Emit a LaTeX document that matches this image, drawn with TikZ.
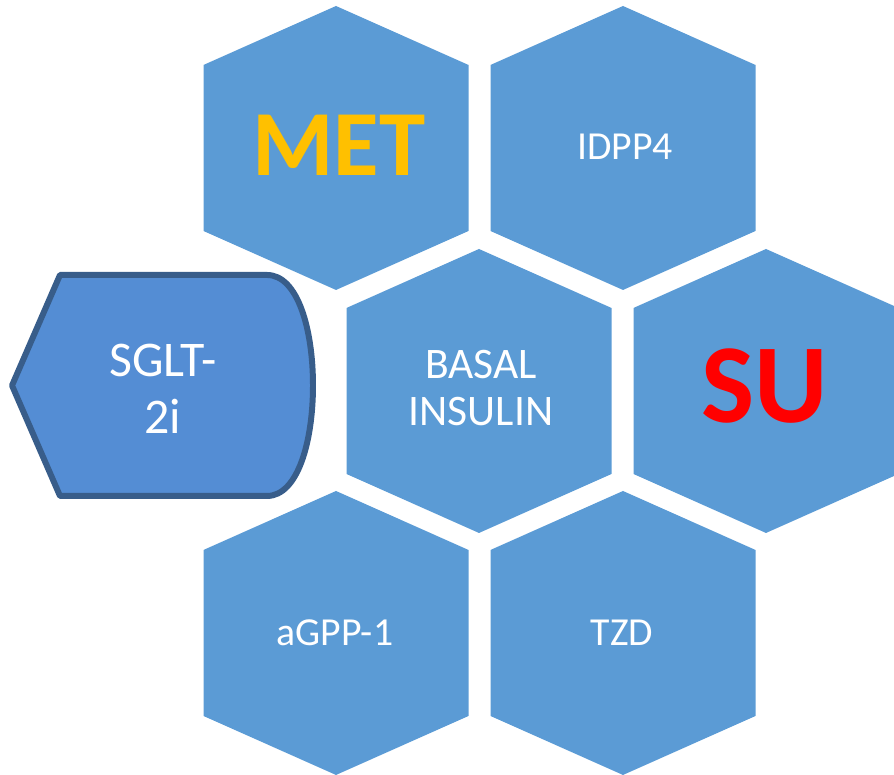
\documentclass[tikz,border=0pt]{standalone}
\usepackage{fontspec}
\setmainfont{Carlito}
\usetikzlibrary{calc}
\definecolor{HexClr}{HTML}{5B9BD5}
\definecolor{ArrowClr}{HTML}{548DD4}
\definecolor{EdgeClr}{HTML}{385D8A}
\definecolor{MetClr}{HTML}{FFC000}
\definecolor{SuClr}{HTML}{FF0000}

\begin{document}
\begin{tikzpicture}[hexcell/.style={fill=HexClr},
  txt/.style={text=white,align=center,inner sep=0pt}]
\useasboundingbox (0,0) rectangle (8.94,7.75);
\clip (0,0) rectangle (8.94,7.75);

% centres of the cells
\coordinate (MET) at (3.36,6.27);
\coordinate (DPP) at (6.23,6.27);
\coordinate (BAS) at (4.79,3.84);
\coordinate (SU)  at (7.66,3.84);
\coordinate (GLP) at (3.36,1.42);
\coordinate (TZD) at (6.23,1.42);

\foreach \c in {MET,DPP,BAS,SU,GLP,TZD}
  \fill[hexcell] ($(\c)+(0,1.42)$) -- ++(1.325,-0.59) -- ++(0,-1.66)
    -- ++(-1.325,-0.59) -- ++(-1.325,0.59) -- ++(0,1.66) -- cycle;

% the arrow shape on the left
\filldraw[fill=ArrowClr,draw=EdgeClr,line width=1.7pt,line join=round]
  (0.12,3.895) -- (0.60,5.00) -- (2.67,5.00)
  .. controls (2.98,5.00) and (3.13,4.45) .. (3.13,3.895)
  .. controls (3.13,3.34) and (2.98,2.79) .. (2.67,2.79)
  -- (0.60,2.79) -- cycle;

\node[txt,text=MetClr,font=\fontsize{26.5}{30}\selectfont\bfseries] (met) at (3.39,6.30) {MET};
\node[txt,font=\fontsize{11.3}{13}\selectfont] (dpp) at (6.25,6.28) {IDPP4};
\node[txt,font=\fontsize{12.4}{13.4}\selectfont] (bas) at (4.81,3.87) {BASAL\\INSULIN};
\node[txt,text=SuClr,font=\fontsize{32}{36}\selectfont\bfseries] (su) at (7.65,3.89) {SU};
\node[txt,font=\fontsize{11.3}{13}\selectfont] (glp) at (3.35,1.42) {aGPP-1};
\node[txt,font=\fontsize{11.3}{13}\selectfont] (tzd) at (6.22,1.42) {TZD};
\node[txt,font=\fontsize{14.2}{16.2}\selectfont] (sglt) at (1.63,3.86) {SGLT-\\2i};

\end{tikzpicture}
\end{document}
